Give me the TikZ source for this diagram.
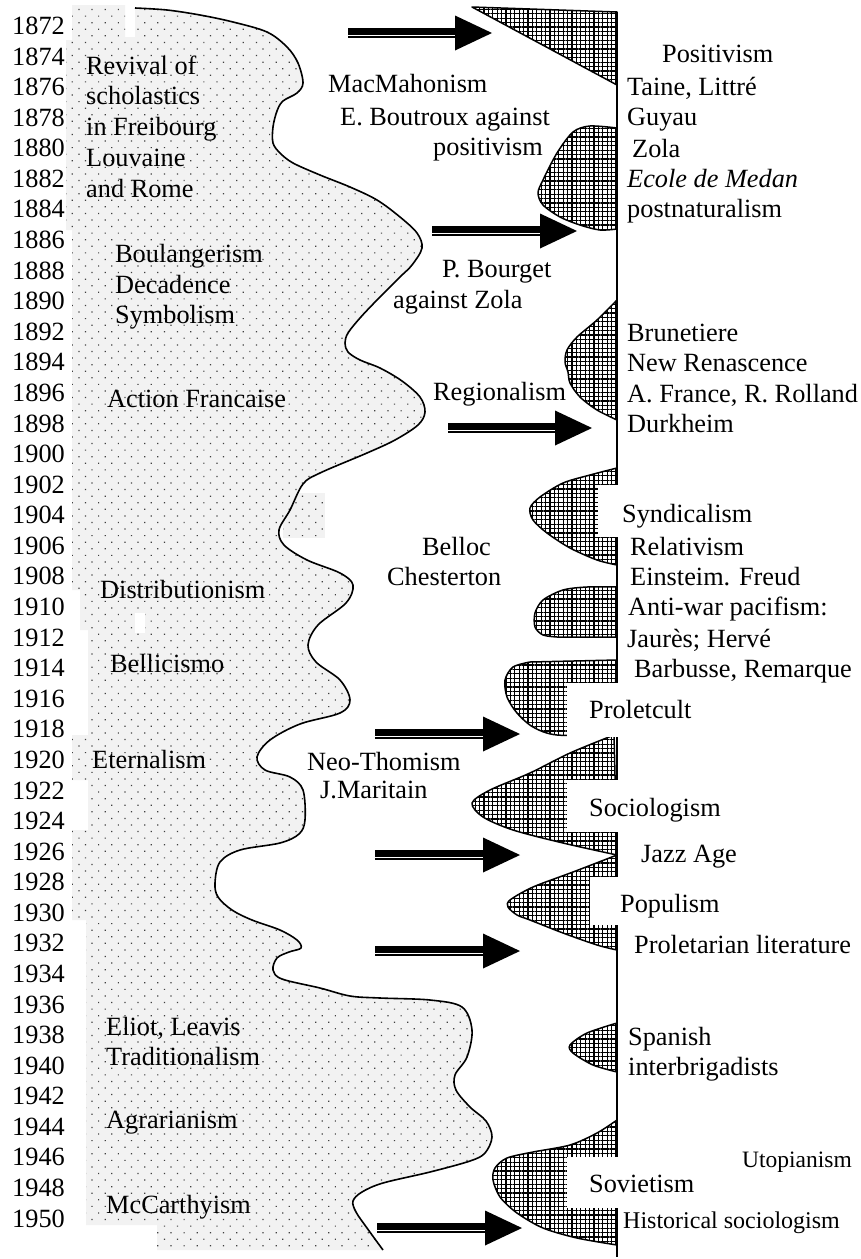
\documentclass[tikz,border=0pt]{standalone}
\usepackage{fontspec}
\setmainfont{Liberation Serif}
\usetikzlibrary{patterns.meta,calc}

\tikzset{
  txt/.style={anchor=base west, inner sep=0pt, font=\fontsize{26.3}{30}\selectfont},
  yearlbl/.style={anchor=base east, inner sep=0pt, font=\fontsize{26.3}{30}\selectfont},
  dotzone/.style={preaction={fill=black!5}, pattern={Dots[distance=9.3pt, angle=45, radius=0.85pt]}, pattern color=black!75},
  wave/.style={draw, line width=1.6pt},
  hatchzone/.style={preaction={fill=white}, pattern={Hatch[distance=4.4pt, line width=1.1pt]}, draw, line width=1.5pt},
  axisline/.style={line width=1.5pt},
  gap/.style={fill=white}
}

% double-shafted arrow: heavy bar above a thin rule, solid triangular head
\newcommand\dblarrow[2]{%
  \fill (#2) -- ($(#2)+(-37,-17.5)$) -- ($(#2)+(-37,17.5)$) -- cycle;
  \draw[line width=7pt] ($(#1)+(0,-2)$) -- ($(#2)+(-36,-2)$);
  \draw[line width=1.5pt] ($(#1)+(0,4)$) -- ($(#2)+(-36,4)$);
}

\def\leftwave{plot[smooth, tension=0.55] coordinates {(135,8) (167,10) (200,15) (233,22) (267,32) (287,47) (298,63) (303,83) (297,93) (283,101) (277,111) (273,127) (273,143) (280,153) (293,163) (320,175) (350,187) (377,200) (400,217) (417,233) (422,248) (412,265) (400,277) (377,300) (360,318) (348,333) (345,343) (348,352) (360,360) (380,368) (402,381) (420,397) (425,412) (418,425) (395,440) (367,453) (320,473) (303,484) (290,510) (279,530) (284,545) (307,560) (340,573) (353,585) (346,603) (318,625) (308,645) (316,662) (340,680) (350,700) (340,713) (300,724) (270,740) (257,757) (265,770) (290,777) (303,790) (305,820) (299,834) (280,843) (240,850) (220,862) (215,883) (218,897) (232,910) (252,920) (280,930) (297,940) (301,948) (289,952) (277,958) (273,970) (282,979) (320,988) (350,996) (380,998) (430,1000) (462,1007) (472,1030) (467,1057) (455,1075) (456,1090) (470,1107) (486,1121) (492,1137) (485,1153) (470,1161) (430,1172) (383,1183) (362,1192) (353,1201) (356,1212) (367,1228) (383,1250)}}

\begin{document}
\begin{tikzpicture}[x=1pt, y=-1pt, line join=round]
\useasboundingbox (0,0) rectangle (861,1259);

% ---- traditionalist current (dotted field) ----
\path[dotzone] \leftwave
  -- (157,1250) -- (157,1225) -- (86,1225) -- (86,920) -- (72,920) -- (72,830)
  -- (88,830) -- (88,780) -- (72,780) -- (72,735) -- (88,735) -- (88,630)
  -- (80,630) -- (80,590) -- (72,590) -- (72,230) -- (66,230) -- (66,40)
  -- (72,40) -- (72,5) -- (125,5) -- (125,37) -- (135,37) -- cycle;
\path[dotzone] (283,493) rectangle (325,538);
\fill[gap] (135,613) rectangle (145,633);
\draw[wave] \leftwave;

% ---- time axis of the progressive current ----
\coordinate (axtop) at (617,12);
\coordinate (axbot) at (617,1257);
\draw[axisline] (axtop) -- (axbot);

% ---- progressive waves (crosshatched) ----
\draw[hatchzone] (472,7) -- (617,12) -- (617,85) -- cycle;
\draw[hatchzone] plot[smooth] coordinates {(617,128) (590,126) (573,132) (557,153) (543,180) (538,193) (543,205) (560,217) (580,225) (600,230) (617,229)} -- cycle;
\draw[hatchzone] plot[smooth] coordinates {(617,300) (597,320) (577,337) (567,350) (565,362) (568,372) (570,383) (580,397) (597,410) (617,420)} -- cycle;
\draw[hatchzone] plot[smooth] coordinates {(617,468) (590,475) (563,483) (540,497) (530,508) (533,520) (547,533) (570,548) (597,560) (617,565)} -- cycle;
\draw[hatchzone] plot[smooth] coordinates {(617,587) (587,587) (563,590) (543,600) (535,613) (535,627) (543,635) (557,637)} -- (617,637) -- cycle;
\draw[hatchzone] (617,660) -- plot[smooth] coordinates {(530,662) (513,667) (505,680) (507,697) (517,713) (533,727) (557,735) (612,735)} -- cycle;
\draw[hatchzone] plot[smooth] coordinates {(614,735) (570,753) (530,773) (490,790) (472,803) (483,817) (513,830) (563,843) (617,855)} -- cycle;
\draw[hatchzone] plot[smooth] coordinates {(617,855) (573,872) (533,887) (510,900) (508,907) (517,915) (530,920) (563,933) (597,945) (617,950)} -- cycle;
\draw[hatchzone] plot[smooth] coordinates {(617,1023) (587,1033) (570,1045) (573,1053) (593,1065) (617,1072)} -- cycle;
\draw[hatchzone] plot[smooth] coordinates {(617,1120) (597,1133) (570,1145) (533,1152) (507,1158) (495,1168) (493,1180) (500,1197) (517,1213) (543,1228) (577,1238) (617,1245)} -- cycle;

% label backgrounds cut into the waves
\fill[gap] (598,485) rectangle (760,537);
\fill[gap] (567,683) rectangle (790,737);
\fill[gap] (567,780) rectangle (760,832);
\fill[gap] (590,877) rectangle (750,925);
\fill[gap] (567,1157) rectangle (700,1208);

% ---- arrows ----
\coordinate (a1s) at (348,33);   \coordinate (a1t) at (492,33);
\coordinate (a2s) at (432,231);  \coordinate (a2t) at (577,231);
\coordinate (a3s) at (448,428);  \coordinate (a3t) at (592,428);
\coordinate (a4s) at (375,734);  \coordinate (a4t) at (520,734);
\coordinate (a5s) at (375,855);  \coordinate (a5t) at (520,855);
\coordinate (a6s) at (375,951);  \coordinate (a6t) at (520,951);
\coordinate (a7s) at (377,1228); \coordinate (a7t) at (522,1228);
\dblarrow{a1s}{a1t}
\dblarrow{a2s}{a2t}
\dblarrow{a3s}{a3t}
\dblarrow{a4s}{a4t}
\dblarrow{a5s}{a5t}
\dblarrow{a6s}{a6t}
\dblarrow{a7s}{a7t}

% ---- years ----
\foreach \i in {0,...,39} {
  \pgfmathtruncatemacro\yr{1872+2*\i}
  \node[yearlbl] (y\yr) at (65, 34.5+30.58*\i) {\yr};
}

% ---- left column ----
\node[txt] (l1a) at (86,74)  {Revival of};
\node[txt] (l1b) at (86,104) {scholastics};
\node[txt] (l1c) at (86,135) {in Freibourg};
\node[txt] (l1d) at (86,166) {Louvaine};
\node[txt] (l1e) at (86,197) {and Rome};
\node[txt] (l2a) at (115,262) {Boulangerism};
\node[txt] (l2b) at (115,293) {Decadence};
\node[txt] (l2c) at (115,323) {Symbolism};
\node[txt] (l3)  at (107,407) {Action Francaise};
\node[txt] (l4)  at (100,598) {Distributionism};
\node[txt] (l5)  at (110,672) {Bellicismo};
\node[txt] (l6)  at (92,768)  {Eternalism};
\node[txt] (l7a) at (106,1035) {Eliot, Leavis};
\node[txt] (l7b) at (106,1065) {Traditionalism};
\node[txt] (l8)  at (106,1128) {Agrarianism};
\node[txt] (l9)  at (106,1213) {McCarthyism};

% ---- middle column ----
\node[txt] (m1a) at (328,92)  {MacMahonism};
\node[txt] (m1b) at (340,125) {E. Boutroux against};
\node[txt] (m1c) at (433,155) {positivism};
\node[txt] (m2a) at (442,277) {P. Bourget};
\node[txt] (m2b) at (393,308) {against Zola};
\node[txt] (m3)  at (433,400) {Regionalism};
\node[txt] (m4a) at (422,555) {Belloc};
\node[txt] (m4b) at (387,585) {Chesterton};
\node[txt] (m5a) at (307,770) {Neo-Thomism};
\node[txt] (m5b) at (320,798) {J.Maritain};

% ---- right column ----
\node[txt] (r1)  at (662,62)  {Positivism};
\node[txt] (r2)  at (627,95)  {Taine, Littré};
\node[txt] (r3)  at (627,125) {Guyau};
\node[txt] (r4)  at (632,157) {Zola};
\node[txt] (r5)  at (627,187) {\itshape Ecole de Medan};
\node[txt] (r6)  at (627,217) {postnaturalism};
\node[txt] (r7)  at (627,341) {Brunetiere};
\node[txt] (r8)  at (627,371) {New Renascence};
\node[txt] (r9)  at (627,402) {A. France, R. Rolland};
\node[txt] (r10) at (627,432) {Durkheim};
\node[txt] (r11) at (622,522) {Syndicalism};
\node[txt] (r12) at (630,555) {Relativism};
\node[txt] (r13) at (630,585) {Einsteim. Freud};
\node[txt] (r14) at (628,615) {Anti-war pacifism:};
\node[txt] (r15) at (627,647) {Jaurès; Hervé};
\node[txt] (r16) at (634,677) {Barbusse, Remarque};
\node[txt] (r17) at (589,718) {Proletcult};
\node[txt] (r18) at (589,816) {Sociologism};
\node[txt] (r19) at (641,862) {Jazz Age};
\node[txt] (r20) at (620,912) {Populism};
\node[txt] (r21) at (634,953) {Proletarian literature};
\node[txt] (r22) at (628,1045) {Spanish};
\node[txt] (r23) at (628,1075) {interbrigadists};
\node[txt, font=\fontsize{23.5}{28}\selectfont] (r24) at (742,1167) {Utopianism};
\node[txt] (r25) at (589,1192) {Sovietism};
\node[txt, font=\fontsize{24}{28}\selectfont] (r26) at (623,1228) {Historical sociologism};
\end{tikzpicture}
\end{document}
